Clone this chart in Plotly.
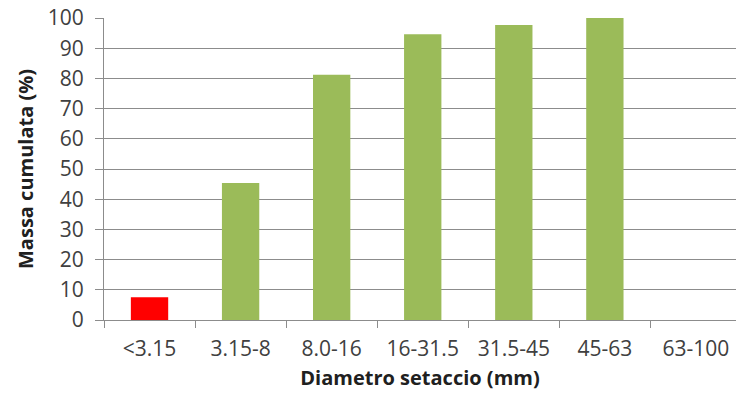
import plotly.graph_objects as go

# Sieve classes and cumulative mass passing (%)
categories = ["<3.15", "3.15-8", "8.0-16", "16-31.5", "31.5-45", "45-63", "63-100"]
mass_cum = [7.5, 45.4, 81.2, 94.6, 97.7, 100.0, None]
bar_colors = ["#FF0000", "#9BBB59", "#9BBB59", "#9BBB59", "#9BBB59", "#9BBB59", "#9BBB59"]
y_ticks = list(range(0, 101, 10))

font_family = "Open Sans, Liberation Sans, sans-serif"
axis_grey = "#8C8C8C"

fig = go.Figure(
    go.Bar(
        x=categories,
        y=mass_cum,
        marker=dict(color=bar_colors, line=dict(width=0)),
        width=0.41,
    )
)

fig.update_layout(
    width=736,
    height=401,
    margin=dict(l=104, r=0, t=18, b=81),
    paper_bgcolor="white",
    plot_bgcolor="white",
    showlegend=False,
    font=dict(family=font_family, color="#404040", size=20),
)

fig.update_xaxes(
    type="category",
    range=[-0.5, 6.44],
    tickson="boundaries",
    ticks="outside",
    ticklen=7,
    tickcolor=axis_grey,
    tickwidth=1,
    showline=True,
    linecolor=axis_grey,
    linewidth=1,
    showgrid=False,
    tickfont=dict(size=21, color="#404040"),
    ticklabelstandoff=10,
    title=dict(
        text="<b>Diametro setaccio (mm)</b>",
        font=dict(size=20, color="#202020"),
        standoff=9,
    ),
)

fig.update_yaxes(
    range=[0, 100],
    tickvals=y_ticks,
    ticks="outside",
    ticklen=8,
    tickcolor=axis_grey,
    tickwidth=1,
    showline=True,
    linecolor=axis_grey,
    linewidth=1,
    showgrid=True,
    gridcolor=axis_grey,
    gridwidth=1,
    zeroline=False,
    tickfont=dict(size=21, color="#404040"),
    ticklabelstandoff=7,
    title=dict(
        text="<b>Massa cumulata (%)</b>",
        font=dict(size=20, color="#202020"),
        standoff=8,
    ),
)

fig.write_html("out.html")
